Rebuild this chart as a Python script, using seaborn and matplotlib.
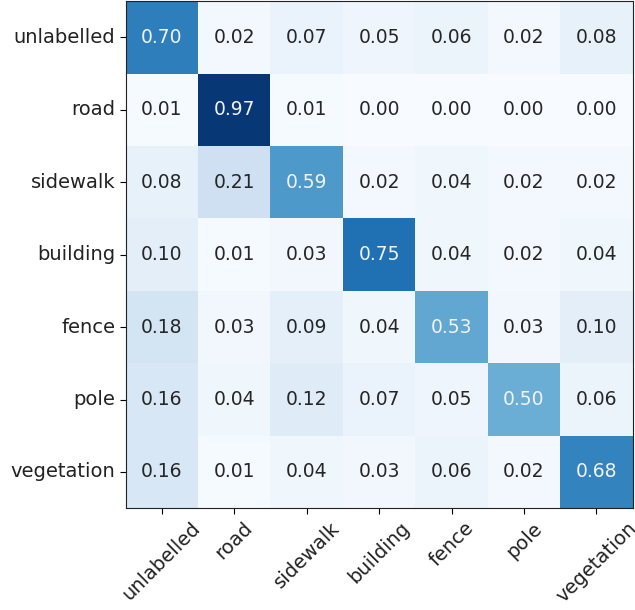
import numpy as np
import seaborn as sns
import matplotlib.pyplot as plt

classes = ["unlabelled", "road", "sidewalk", "building", "fence", "pole", "vegetation"]

row_unlabelled = [0.70, 0.02, 0.07, 0.05, 0.06, 0.02, 0.08]
row_road = [0.01, 0.97, 0.01, 0.00, 0.00, 0.00, 0.00]
row_sidewalk = [0.08, 0.21, 0.59, 0.02, 0.04, 0.02, 0.02]
row_building = [0.10, 0.01, 0.03, 0.75, 0.04, 0.02, 0.04]
row_fence = [0.18, 0.03, 0.09, 0.04, 0.53, 0.03, 0.10]
row_pole = [0.16, 0.04, 0.12, 0.07, 0.05, 0.50, 0.06]
row_vegetation = [0.16, 0.01, 0.04, 0.03, 0.06, 0.02, 0.68]

cm = np.array([row_unlabelled, row_road, row_sidewalk, row_building,
               row_fence, row_pole, row_vegetation])

fig = plt.figure(figsize=(6.35, 6.1), dpi=100)
ax = fig.add_axes([0.197, 0.167, 0.8, 0.831])

sns.heatmap(cm, ax=ax, cmap="Blues", vmin=0.0, vmax=1.0,
            annot=True, fmt=".2f", annot_kws={"fontsize": 13.5},
            cbar=False, square=True,
            xticklabels=classes, yticklabels=classes)

# white text on the dark cells, like the usual confusion matrix helper
thresh = cm.max() / 2.0
for t, v in zip(ax.texts, cm.flatten()):
    t.set_color("#f2f2f2" if v > thresh else "#262626")

for s in ax.spines.values():
    s.set_visible(True)
    s.set_color("#222222")
    s.set_linewidth(0.8)

ax.tick_params(axis="both", length=4, width=0.8, labelsize=14, labelcolor="#222222")
plt.setp(ax.get_xticklabels(), rotation=45, ha="center")
plt.setp(ax.get_yticklabels(), rotation=0)

fig.savefig("out.png", dpi=100)
